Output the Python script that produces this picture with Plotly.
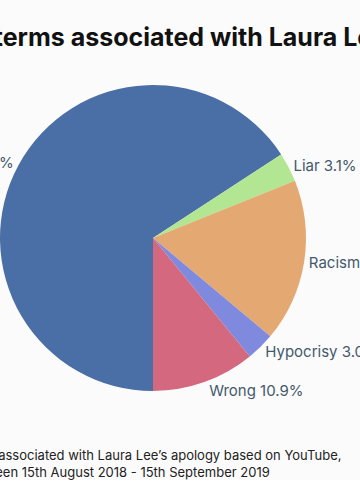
import plotly.graph_objects as go

labels = ["Apology", "Liar", "Racism", "Hypocrisy", "Wrong"]
values = [65.8, 3.1, 17.2, 3.0, 10.9]
colors = ["#4a6ea6", "#b2e692", "#e4a873", "#7f8ade", "#d4687e"]

title_text = "Top terms associated with Laura Lee's apology"
caption_line1 = "Share of terms associated with Laura Lee’s apology based on YouTube,"
caption_line2 = "comments between 15th August 2018 - 15th September 2019"

fig = go.Figure(go.Pie(
    labels=labels,
    values=values,
    marker=dict(colors=colors, line=dict(width=0)),
    sort=False,
    direction="clockwise",
    rotation=180,
    textposition="outside",
    texttemplate="%{label} %{percent:.1%}",
    textfont=dict(family="Inter, Lato, sans-serif", size=15, color="#44596b"),
    showlegend=False,
    hoverinfo="label+percent",
    domain=dict(x=[0, 0.85], y=[0.218, 0.83]),
))

fig.update_layout(
    width=360, height=500,
    margin=dict(l=0, r=0, t=0, b=0, autoexpand=False),
    paper_bgcolor="#ffffff",
    shapes=[dict(type="rect", xref="paper", yref="paper", x0=0, x1=1, y0=0.04, y1=1,
                 fillcolor="#fbfbfb", line=dict(width=0), layer="below")],
    annotations=[
        dict(text=title_text, xref="paper", yref="paper", x=-0.168, y=0.926,
             xanchor="left", yanchor="middle", showarrow=False,
             font=dict(family="Inter, Lato, sans-serif", size=25, color="#111111", weight=700)),
        dict(text=caption_line1, xref="paper", yref="paper", x=-0.272, y=0.09,
             xanchor="left", yanchor="middle", showarrow=False,
             font=dict(family="Inter, Lato, sans-serif", size=13, color="#222222")),
        dict(text=caption_line2, xref="paper", yref="paper", x=-0.292, y=0.056,
             xanchor="left", yanchor="middle", showarrow=False,
             font=dict(family="Inter, Lato, sans-serif", size=13, color="#222222")),
    ],
)

fig.write_html("out.html")
